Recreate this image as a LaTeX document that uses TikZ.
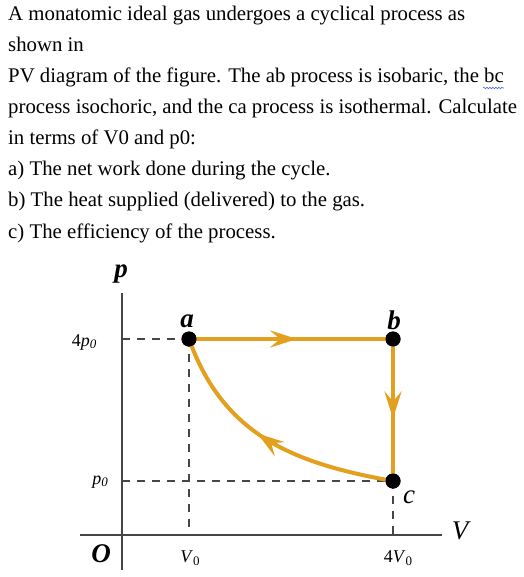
\documentclass[tikz,border=0pt]{standalone}
\usepackage{fontspec}
\setmainfont{Liberation Serif}
\usetikzlibrary{arrows.meta,decorations.markings,decorations.pathmorphing}
\definecolor{cycleorange}{RGB}{226,160,30}
\definecolor{axisgray}{RGB}{70,70,70}
\definecolor{squiggle}{RGB}{80,110,200}
\newcommand{\lowsub}[1]{\raisebox{-0.3ex}{\fontsize{13}{13}\selectfont #1}}
\tikzset{%
    question/.style={
      anchor=base west,
      inner sep=0pt,
      font=\fontsize{20.8}{24}\selectfont
    },
    state/.style={
      circle,
      fill=black,
      inner sep=0pt,
      minimum size=15pt
    },
    process/.style={
      draw=cycleorange,
      line width=4pt
    },
    midarrow/.style={
      postaction={decorate, decoration={markings,
        mark=at position #1 with {\arrow{Stealth[length=27pt,width=17pt,inset=10pt]}}}}
    },
    axis/.style={
      draw=axisgray,
      line width=2pt
    },
    helper/.style={
      draw=axisgray,
      line width=1.6pt,
      dash pattern=on 8pt off 7pt
    },
    label/.style={
      inner sep=0pt,
      font=\itshape\fontsize{27}{27}\selectfont
    },
    heavylabel/.style={
      label,
      font=\bfseries\itshape\fontsize{27}{27}\selectfont
    },
    tick/.style={
      inner sep=0pt,
      font=\fontsize{18}{18}\selectfont
    }
  }

\begin{document}
\begin{tikzpicture}[x=1pt, y=-1pt]
      \useasboundingbox[fill=white] (0,0) rectangle (523,577);

      % question text
      \node [question] (l1) at (8,21) {A monatomic ideal gas undergoes a cyclical process as};
      \node [question] (l2) at (8,52) {shown in};
      \node [question] (l3) at (8,83) {PV diagram of the figure. The ab process is isobaric, the bc};
      \node [question] (l4) at (8,114) {process isochoric, and the ca process is isothermal. Calculate};
      \node [question] (l5) at (8,145) {in terms of V0 and p0:};
      \node [question] (l6) at (8,176) {a) The net work done during the cycle.};
      \node [question] (l7) at (8,207) {b) The heat supplied (delivered) to the gas.};
      \node [question] (l8) at (8,238) {c) The efficiency of the process.};
      \draw [squiggle, line width=0.6pt, decorate, decoration={snake, amplitude=0.8pt, segment length=3pt}]
        ([xshift=-21pt, yshift=-5pt]l3.base east) -- ([yshift=-5pt]l3.base east);

      % axes
      \coordinate (ptop) at (122,293);
      \coordinate (pbot) at (122,570);
      \coordinate (vleft) at (80,535);
      \coordinate (vright) at (442,535);
      \draw [axis] (ptop) -- (pbot);
      \draw [axis] (vleft) -- (vright);

      % states
      \node [state] (a) at (189,339) {};
      \node [state] (b) at (393,339) {};
      \node [state] (c) at (393,481) {};

      \coordinate (pa) at (122,339);
      \coordinate (pc) at (122,481);
      \coordinate (va) at (189,535);
      \coordinate (vc) at (393,535);

      \draw [helper] (pa) -- (a.center);
      \draw [helper] (a.center) -- (va);
      \draw [helper] (pc) -- (c.center);
      \draw [helper] (c.center) -- (vc);

      % cycle
      \draw [process, midarrow=0.53] (a.center) -- (b.center);
      \draw [process, midarrow=0.56] (b.center) -- (c.center);
      \draw [process, midarrow=0.55] (c.center) .. controls (291,463) and (223,434) .. (a.center);

      \node [state] at (a) {};
      \node [state] at (b) {};
      \node [state] at (c) {};

      % labels
      \node [heavylabel] (lp) at (121,274) {p};
      \node [heavylabel] (la) at (187,321) {a};
      \node [heavylabel] (lb) at (394,320) {b};
      \node [label] (lc) at (409,497) {c};
      \node [heavylabel] (lo) at (101,554) {O};
      \node [label] (lv) at (460,531) {V};
      \node [tick] (l4p) at (84,342) {4\textit{p}\lowsub{\textit{0}}};
      \node [tick] (lp0) at (100,482) {\textit{p}\lowsub{\textit{0}}};
      \node [tick] (lv0) at (190,558) {\textit{V}\lowsub{0}};
      \node [tick] (l4v) at (398,558) {4\textit{V}\lowsub{0}};
    \end{tikzpicture}
\end{document}
